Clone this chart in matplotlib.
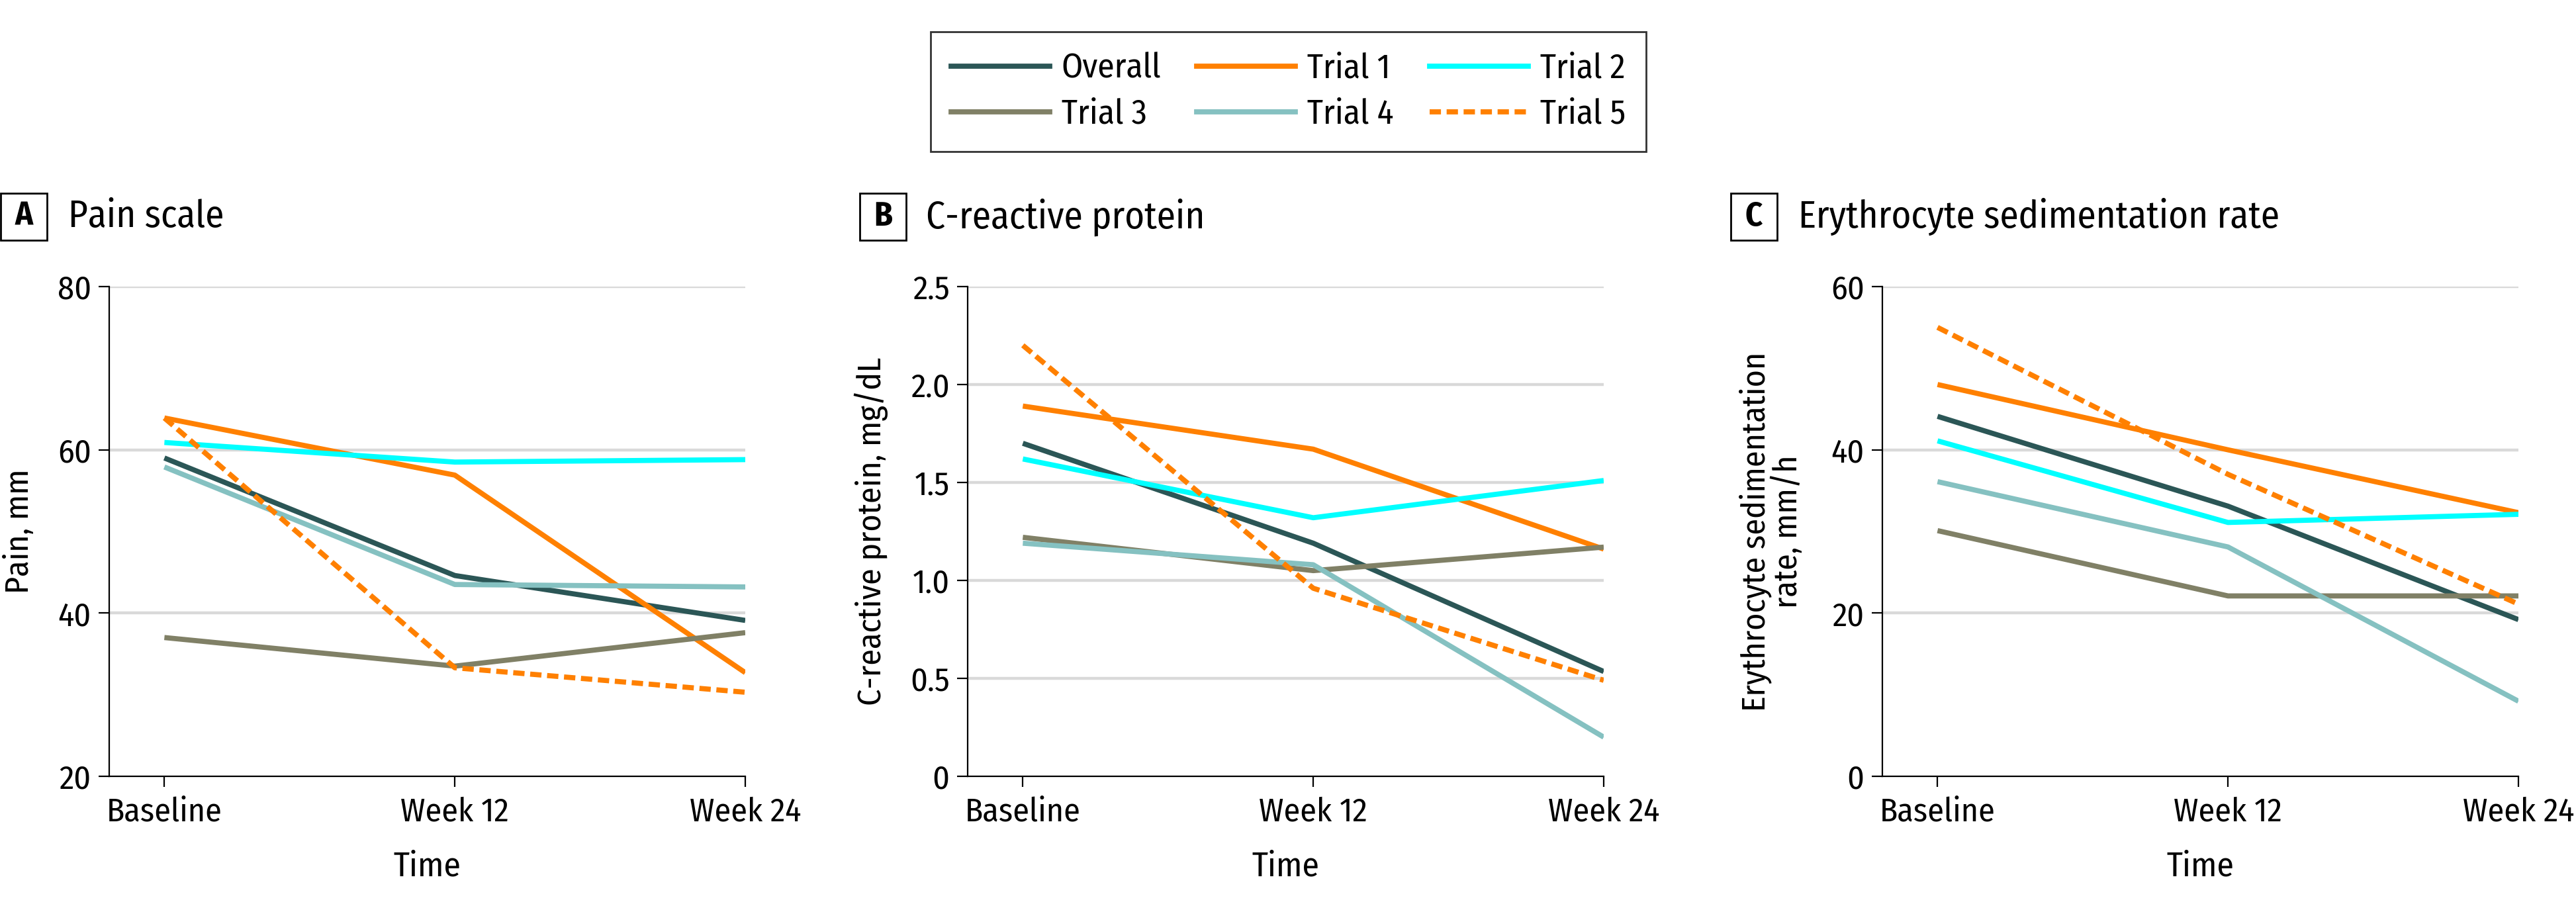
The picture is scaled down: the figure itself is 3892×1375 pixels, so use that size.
import matplotlib
matplotlib.use("Agg")
import matplotlib.pyplot as plt
from matplotlib.lines import Line2D
from matplotlib.patches import Rectangle

plt.rcParams['font.family'] = ['Fira Sans Condensed', 'DejaVu Sans']

timepoints = ["Baseline", "Week 12", "Week 24"]
series = ["Overall", "Trial 1", "Trial 2", "Trial 3", "Trial 4", "Trial 5"]

# pain scale, mm
pain = {
    "Overall": [59.0, 44.6, 39.1],
    "Trial 1": [63.9, 56.9, 32.7],
    "Trial 2": [60.9, 58.5, 58.8],
    "Trial 3": [37.0, 33.5, 37.6],
    "Trial 4": [57.9, 43.5, 43.2],
    "Trial 5": [63.9, 33.3, 30.3],
}
# C-reactive protein, mg/dL
crp = {
    "Overall": [1.70, 1.19, 0.535],
    "Trial 1": [1.89, 1.67, 1.16],
    "Trial 2": [1.62, 1.32, 1.51],
    "Trial 3": [1.22, 1.05, 1.17],
    "Trial 4": [1.19, 1.08, 0.20],
    "Trial 5": [2.20, 0.96, 0.49],
}
# erythrocyte sedimentation rate, mm/h
esr = {
    "Overall": [44.1, 33.1, 19.2],
    "Trial 1": [48.0, 40.0, 32.3],
    "Trial 2": [41.1, 31.1, 32.1],
    "Trial 3": [30.1, 22.1, 22.1],
    "Trial 4": [36.1, 28.1, 9.2],
    "Trial 5": [55.0, 37.0, 21.1],
}

colors = {
    "Overall": "#2b5656",
    "Trial 1": "#ff8000",
    "Trial 2": "#00ffff",
    "Trial 3": "#808066",
    "Trial 4": "#85c1c1",
    "Trial 5": "#ff8000",
}

panels = [
    ("A", "Pain scale", pain, "Pain, mm", [20, 40, 60, 80], ["20", "40", "60", "80"]),
    ("B", "C-reactive protein", crp, "C-reactive protein, mg/dL",
     [0, 0.5, 1.0, 1.5, 2.0, 2.5], ["0", "0.5", "1.0", "1.5", "2.0", "2.5"]),
    ("C", "Erythrocyte sedimentation rate", esr, "Erythrocyte sedimentation\nrate, mm/h",
     [0, 20, 40, 60], ["0", "20", "40", "60"]),
]

W, H = 3892, 1375
fig = plt.figure(figsize=(W / 200, H / 200), dpi=200)

ax_left = [165, 1462, 2844]
box_left = [1, 1299, 2615]
title_x = [103, 1399, 2717]
ylab_x = [29, 1316, 2676]
ax_w, ax_top, ax_bot = 961, 433, 1173
box_w, box_top, box_bot = 70, 292, 363

lw = 2.8
dash = (0, (2.2, 1.1))
for i, (letter, title, data, ylabel, yt, ytl) in enumerate(panels):
    ax = fig.add_axes([ax_left[i] / W, 1 - ax_bot / H, ax_w / W, (ax_bot - ax_top) / H])
    x = list(range(len(timepoints)))
    for s in series:
        ls = dash if s == "Trial 5" else "-"
        ax.plot(x, data[s], color=colors[s], lw=lw, ls=ls, solid_capstyle="butt",
                dash_capstyle="butt", label=s, zorder=3)
    ax.set_xlim(-0.19, 2.0)
    ax.set_ylim(yt[0], yt[-1])
    ax.set_xticks(x)
    ax.set_xticklabels(timepoints)
    ax.set_yticks(yt)
    ax.set_yticklabels(ytl)
    for v in yt[1:]:
        ax.axhline(v, color="#d9d9d9", lw=1.6, zorder=1)
    for sp in ["top", "right"]:
        ax.spines[sp].set_visible(False)
    for sp in ["left", "bottom"]:
        ax.spines[sp].set_linewidth(0.8)
    ax.tick_params(axis="both", length=5.8, width=0.8, labelsize=18, color="black")
    ax.tick_params(axis="x", pad=5)
    ax.tick_params(axis="y", pad=4)
    ax.set_xlabel("Time", fontsize=18.5, labelpad=12)

    fig.text(ylab_x[i] / W, 1 - (ax_top + ax_bot) / 2 / H, ylabel, rotation=90,
             ha="center", va="center", fontsize=18, linespacing=1.0)

    # panel letter box and title
    fig.patches.append(Rectangle((box_left[i] / W, 1 - box_bot / H), box_w / W,
                                 (box_bot - box_top) / H, transform=fig.transFigure,
                                 fc="white", ec="black", lw=1.0))
    fig.text((box_left[i] + box_w / 2) / W, 1 - (box_top + box_bot) / 2 / H, letter,
             ha="center", va="center", fontsize=18, fontweight="bold")
    fig.text(title_x[i] / W, 1 - 328 / H, title, ha="left", va="center",
             fontsize=20.5)

# legend is filled column by column, so order entries to read row-wise
order = ["Overall", "Trial 3", "Trial 1", "Trial 4", "Trial 2", "Trial 5"]
handles = []
for s in order:
    ls = dash if s == "Trial 5" else "-"
    handles.append(Line2D([], [], color=colors[s], lw=lw, ls=ls))
leg = fig.legend(handles, order, ncol=3, loc="upper left",
                 bbox_to_anchor=(1406 / W, 1 - 48 / H), borderaxespad=0,
                 fontsize=18.5, frameon=True, fancybox=False, edgecolor="black",
                 handlelength=2.9, handletextpad=0.35, columnspacing=1.05,
                 borderpad=0.6, labelspacing=0.38)
leg.get_frame().set_linewidth(1.0)

fig.savefig("out.png", dpi=200, facecolor="white")
